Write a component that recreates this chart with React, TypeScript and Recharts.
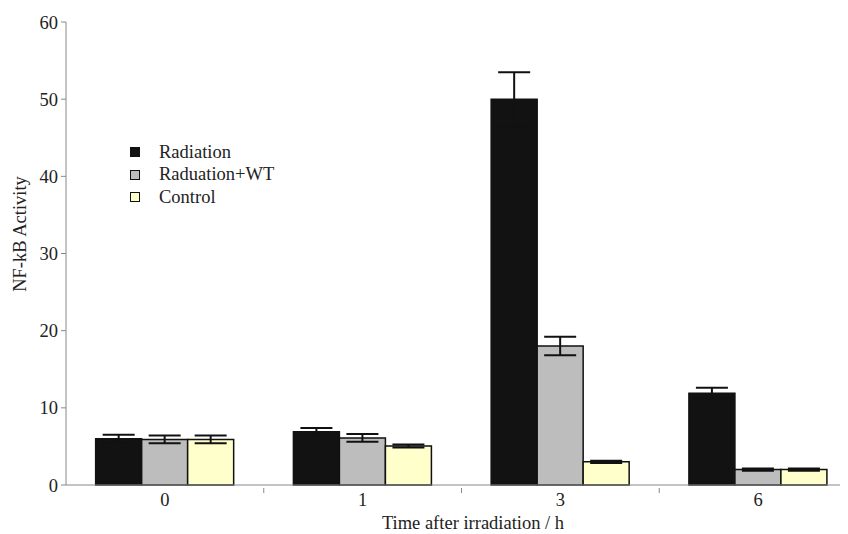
import { BarChart, Bar, XAxis, YAxis, ErrorBar, Legend } from 'recharts'

const categories = ['0', '1', '3', '6']
const radiation = [6, 6.9, 50, 11.9]
const radiationErr = [0.5, 0.5, 3.5, 0.7]
const radiationWT = [5.9, 6.1, 18, 2]
const radiationWTErr = [0.5, 0.5, 1.2, 0.15]
const control = [5.9, 5.05, 3, 2]
const controlErr = [0.5, 0.2, 0.15, 0.15]
const yTicks = [0, 10, 20, 30, 40, 50, 60]

const series = [
  { key: 'radiation', name: 'Radiation', fill: '#121212' },
  { key: 'wt', name: 'Raduation+WT', fill: '#bdbdbd' },
  { key: 'control', name: 'Control', fill: '#ffffcc' },
]

const data = categories.map((c, i) => ({
  time: c,
  radiation: radiation[i],
  radiationErr: radiationErr[i],
  wt: radiationWT[i],
  wtErr: radiationWTErr[i],
  control: control[i],
  controlErr: controlErr[i],
}))

const FONT = "'Liberation Serif', 'Times New Roman', Times, serif"
const FS = 18.5
const CHART_W = 860
const CHART_H = 526
const MARGIN = { top: 14, right: 11, bottom: 0, left: 0 }
const Y_W = 58
const PLOT_W = CHART_W - MARGIN.right - Y_W
const BAND = PLOT_W / categories.length

function XTick({ x, y, payload }: any) {
  return (
    <g>
      <line x1={x + BAND / 2} x2={x + BAND / 2} y1={y} y2={y - 5} stroke="#888" strokeWidth={1} />
      <text x={x} y={y + 13} textAnchor="middle" style={{ fontFamily: FONT }} fontSize={FS} fill="#222">
        {payload.value}
      </text>
    </g>
  )
}

function LegendBox() {
  return (
    <div style={{ fontFamily: FONT, fontSize: FS, color: '#222' }}>
      {series.map((s) => (
        <div key={s.key} style={{ display: 'flex', alignItems: 'center', height: 22.5 }}>
          <span
            style={{
              display: 'inline-block',
              width: 8,
              height: 8,
              background: s.fill,
              border: '1.5px solid #111',
              marginRight: 19,
            }}
          />
          {s.name}
        </div>
      ))}
    </div>
  )
}

export default function App() {
  return (
    <div style={{ width: 840, height: CHART_H, overflow: 'hidden', fontFamily: FONT }}>
      <BarChart width={CHART_W} height={CHART_H} data={data} margin={MARGIN} barCategoryGap="15%" barGap={0}>
        <XAxis
          dataKey="time"
          height={CHART_H - 477}
          axisLine={{ stroke: '#888' }}
          tickLine={false}
          tick={<XTick />}
          label={{
            content: () => (
              <text x={465} y={521} textAnchor="middle" style={{ fontFamily: FONT }} fontSize={FS} fill="#222">
                Time after irradiation / h
              </text>
            ),
          }}
        />
        <YAxis
          width={Y_W}
          domain={[0, 60]}
          ticks={yTicks}
          axisLine={{ stroke: '#888' }}
          tickLine={{ stroke: '#888' }}
          tickSize={5}
          tickMargin={3}
          tick={{ style: { fontFamily: FONT }, fontSize: FS, fill: '#222' }}
          label={{
            content: () => (
              <text
                x={18}
                y={226}
                transform="rotate(-90 18 226)"
                textAnchor="middle"
                style={{ fontFamily: FONT }}
                fontSize={FS}
                fill="#222"
              >
                NF-kB Activity
              </text>
            ),
          }}
        />
        <Legend
          layout="vertical"
          verticalAlign="middle"
          align="center"
          content={<LegendBox />}
          wrapperStyle={{ left: 122, top: 133, width: 220 }}
        />
        {series.map((s) => (
          <Bar key={s.key} dataKey={s.key} name={s.name} fill={s.fill} stroke="#111" strokeWidth={1.5} isAnimationActive={false}>
            <ErrorBar dataKey={`${s.key}Err`} width={16} stroke="#111" strokeWidth={2} />
          </Bar>
        ))}
      </BarChart>
    </div>
  )
}
